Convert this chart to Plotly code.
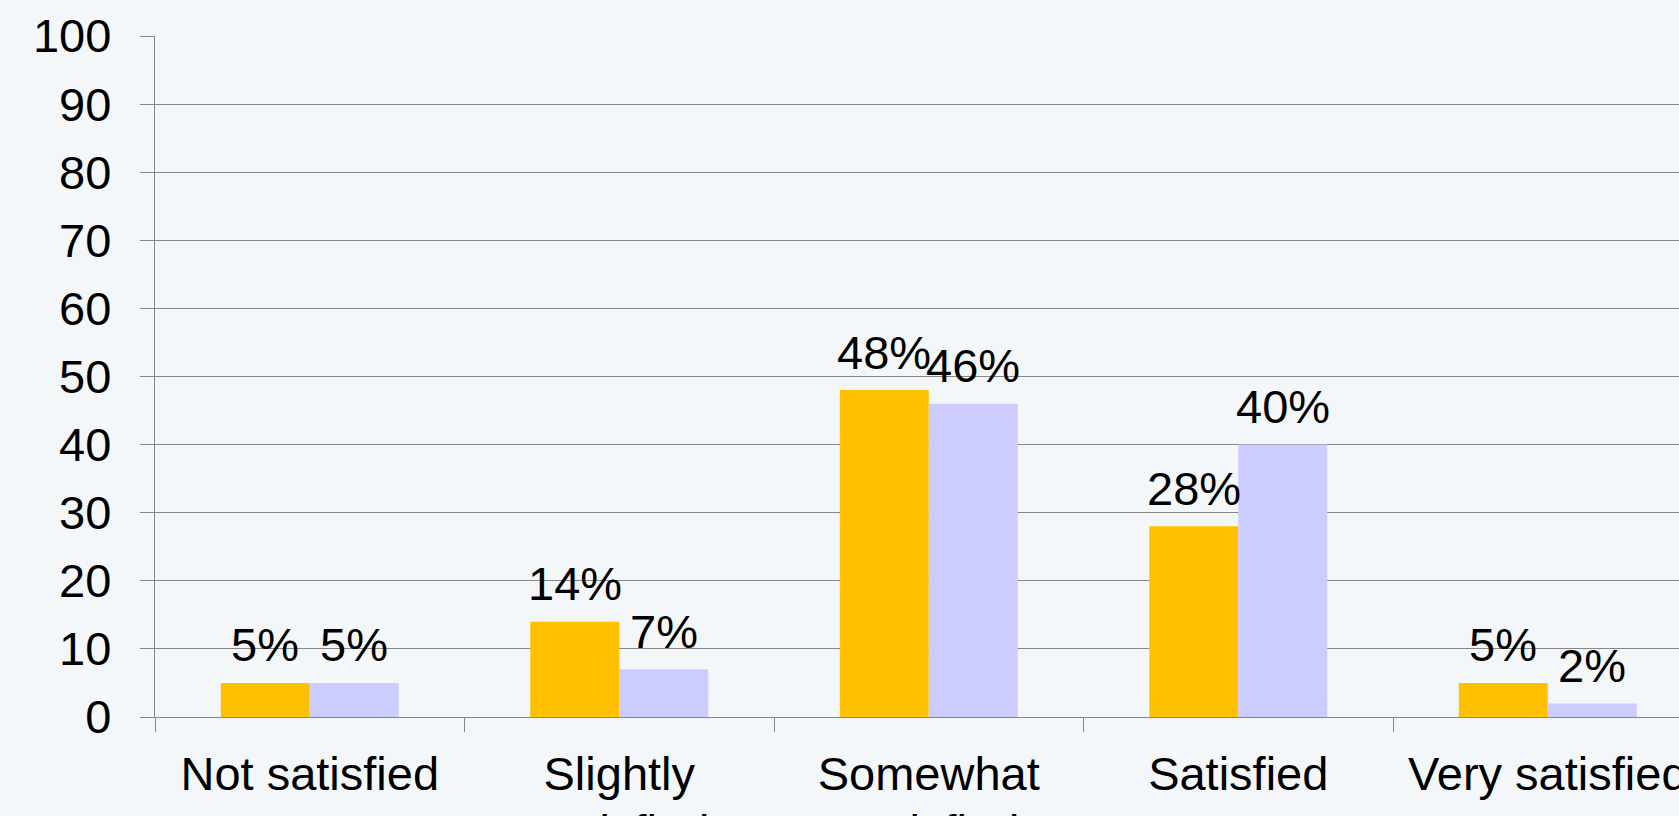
import plotly.graph_objects as go

categories = ["Not satisfied", "Slightly Satisfied", "Somewhat Satisfied", "Satisfied", "Very satisfied"]
tick_line1 = ["Not satisfied", "Slightly", "Somewhat", "Satisfied", "Very satisfied"]
tick_line2 = ["", "Satisfied", "Satisfied", "", ""]
series_a = [5, 14, 48, 28, 5]
series_b = [5, 7, 46, 40, 2]
y_ticks = [0, 10, 20, 30, 40, 50, 60, 70, 80, 90, 100]

FONT = "Liberation Sans, Arial, sans-serif"
BG = "#F4F7FA"
GRID = "#878787"
BARGAP = 0.425
FS = 47

fig = go.Figure()
fig.add_trace(go.Bar(
    x=categories, y=series_a, name="Series 1",
    marker=dict(color="#FFC000", line=dict(width=0)),
))
fig.add_trace(go.Bar(
    x=categories, y=series_b, name="Series 2",
    marker=dict(color="#CCCCFF", line=dict(width=0)),
))

# value labels above each bar, positioned at the bar's centre in data units
half = (1 - BARGAP) / 4
for i, (a, b) in enumerate(zip(series_a, series_b)):
    for off, v in ((-half, a), (half, b)):
        fig.add_annotation(
            x=i + off, y=v, xref="x", yref="y", text=f"{v}%",
            showarrow=False, yanchor="middle", xanchor="center", yshift=38,
            font=dict(size=FS, family=FONT, color="#000000"),
        )

# second line of the wrapped category labels (tight line spacing, runs off the page bottom)
for i, t in enumerate(tick_line2):
    if t:
        fig.add_annotation(
            x=i, y=0, xref="x", yref="paper", text=t,
            showarrow=False, yanchor="middle", xanchor="center", yshift=-114,
            font=dict(size=FS, family=FONT, color="#000000"),
        )

fig.update_layout(
    width=1679, height=816,
    margin=dict(l=155, r=0, t=36, b=99),
    paper_bgcolor=BG, plot_bgcolor=BG,
    barmode="group", bargap=BARGAP, bargroupgap=0,
    showlegend=False,
    font=dict(family=FONT, size=FS, color="#000000"),
)
fig.update_xaxes(
    type="category", range=[-0.5, 4.424], automargin=False,
    tickmode="array", tickvals=categories, ticktext=tick_line1,
    tickson="boundaries", ticks="outside", ticklen=14, tickwidth=1.4, tickcolor=GRID,
    showline=True, linecolor=GRID, linewidth=1.4, showgrid=False,
    tickfont=dict(size=FS, family=FONT, color="#000000"),
    ticklabelstandoff=15,
)
fig.update_yaxes(
    range=[0, 100], tickvals=y_ticks, automargin=False,
    ticks="outside", ticklen=14, tickwidth=1.4, tickcolor=GRID,
    showline=True, linecolor=GRID, linewidth=1.4,
    showgrid=True, gridcolor=GRID, gridwidth=1.4, zeroline=False,
    tickfont=dict(size=FS, family=FONT, color="#000000"),
    ticklabelstandoff=19,
)

fig.write_html("out.html")
